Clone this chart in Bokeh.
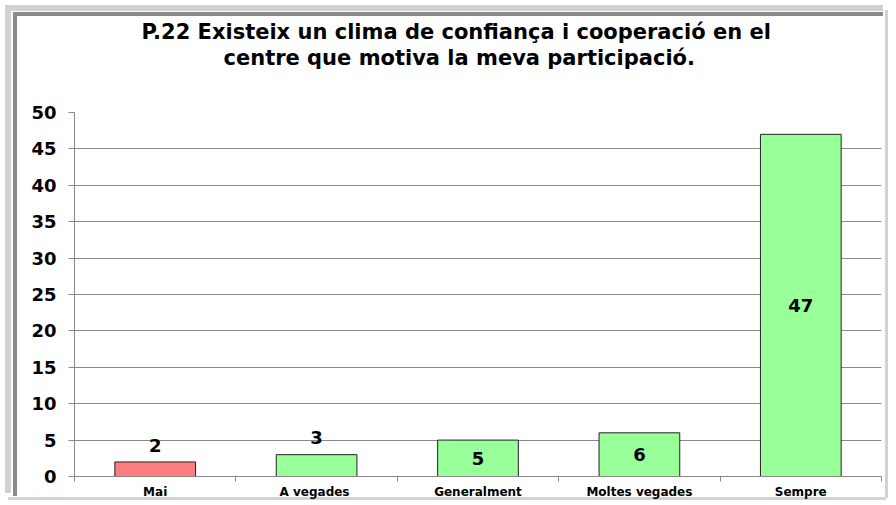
from bokeh.plotting import figure
from bokeh.models import ColumnDataSource, FixedTicker, Title, LabelSet, Range1d
from bokeh.core.properties import value
from bokeh.embed import file_html
from bokeh.resources import INLINE

categories = ["Mai", "A  vegades", "Generalment", "Moltes vegades", "Sempre"]
values = [2, 3, 5, 6, 47]
y_ticks = [0, 5, 10, 15, 20, 25, 30, 35, 40, 45, 50]
title_lines = ["P.22 Existeix un clima de confiança i cooperació en el",
               "centre que motiva la meva participació."]

FONT = "DejaVu Sans"
W, H = 890, 501
colors = ["#FF7C80" if c == "Mai" else "#99FF99" for c in categories]
xpos = [i + 0.5 for i in range(len(categories))]
label_y = [v + 2.3 if v < 4 else v / 2 for v in values]

src = ColumnDataSource(dict(x=xpos, val=values, color=colors,
                            ly=label_y, lbl=[str(v) for v in values]))

p = figure(x_range=Range1d(0, len(categories)), y_range=Range1d(0, 50), width=W, height=H,
           output_backend="svg", toolbar_location=None,
           min_border_left=74, min_border_right=9, min_border_top=112, min_border_bottom=0)

p.vbar(x="x", top="val", width=0.5, source=src, fill_color="color",
       line_color="#222222", line_width=1)

p.add_layout(LabelSet(x="x", y="ly", text="lbl", source=src, text_align="center",
                      text_baseline="middle", text_font=value(FONT), text_font_style="bold",
                      text_font_size="18px", text_color="black"))

# spacer closest to the frame, then line 2, then line 1 (left-aligned, offset to centre on chart)
p.add_layout(Title(text=" ", text_font_size="37px", standoff=0, offset=0), "above")
p.add_layout(Title(text=title_lines[1], align="left", text_font=FONT, text_font_style="bold",
                   text_font_size="21px", text_color="black", standoff=0, offset=149), "above")
p.add_layout(Title(text=title_lines[0], align="left", text_font=FONT, text_font_style="bold",
                   text_font_size="21px", text_color="black", standoff=0, offset=67), "above")

p.yaxis.ticker = FixedTicker(ticks=y_ticks)
p.yaxis.major_label_text_font = FONT
p.yaxis.major_label_text_font_style = "bold"
p.yaxis.major_label_text_font_size = "18px"
p.yaxis.major_label_text_color = "black"
p.yaxis.axis_line_color = "#888888"
p.yaxis.major_tick_line_color = "#888888"
p.yaxis.major_tick_out = 6
p.yaxis.major_tick_in = 0
p.yaxis.minor_tick_line_color = None
p.yaxis.major_label_standoff = 12

p.xaxis.ticker = FixedTicker(ticks=xpos, minor_ticks=list(range(len(categories) + 1)))
p.xaxis.major_label_overrides = {x: c for x, c in zip(xpos, categories)}
p.xaxis.major_label_text_font = FONT
p.xaxis.major_label_text_font_style = "bold"
p.xaxis.major_label_text_font_size = "12px"
p.xaxis.major_label_text_color = "black"
p.xaxis.axis_line_color = "#888888"
p.xaxis.major_tick_line_color = None
p.xaxis.major_tick_out = 0
p.xaxis.major_tick_in = 0
p.xaxis.minor_tick_line_color = "#888888"
p.xaxis.minor_tick_out = 5
p.xaxis.minor_tick_in = 0
p.xaxis.major_label_standoff = 3

p.xgrid.grid_line_color = None
p.ygrid.grid_line_color = "#888888"
p.ygrid.ticker = FixedTicker(ticks=y_ticks)
p.outline_line_color = None
p.border_fill_color = None
p.background_fill_color = "white"

# outer chart border drawn as CSS background bands behind the transparent canvas border
light, dark = "#d2d2d2", "#8a8a8a"
bands = [
    (light, "6px 488px", "5px 5px"),     # left outer
    (light, "878px 6px", "5px 5px"),     # top outer
    (dark, "4px 484px", "13px 12px"),    # left inner
    (dark, "870px 4px", "13px 12px"),    # top inner
    (light, "3px 488px", "885px 10px"),  # right
    (light, "878px 3px", "8px 497px"),   # bottom
]
p.styles = {
    "background-color": "white",
    "background-image": ", ".join(f"linear-gradient({c},{c})" for c, _, _ in bands),
    "background-size": ", ".join(s for _, s, _ in bands),
    "background-position": ", ".join(pos for _, _, pos in bands),
    "background-repeat": "no-repeat",
}

open("out.html", "w").write(file_html(p, INLINE))
